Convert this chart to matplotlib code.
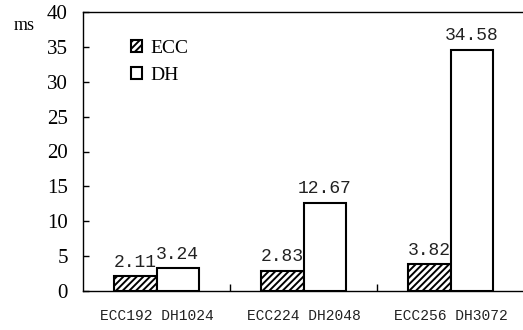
import matplotlib
matplotlib.use("Agg")
import matplotlib.pyplot as plt
import numpy as np

categories = ["ECC192 DH1024", "ECC224 DH2048", "ECC256 DH3072"]
ecc_values = [2.11, 2.83, 3.82]
dh_values = [3.24, 12.67, 34.58]
series_names = ["ECC", "DH"]
yticks = [0, 5, 10, 15, 20, 25, 30, 35, 40]

plt.rcParams['hatch.linewidth'] = 1.4
fig = plt.figure(figsize=(5.23, 3.30), dpi=100)
ax = fig.add_axes([83/523, 1 - 291/330, 441/523, 279/330])

x = np.arange(len(categories))
w = 0.29
ax.bar(x - w/2, ecc_values, w, facecolor="white", edgecolor="black",
       hatch="/////", linewidth=1.5, label=series_names[0])
ax.bar(x + w/2, dh_values, w, facecolor="white", edgecolor="black",
       linewidth=1.5, label=series_names[1])

mono = "Liberation Mono"
serif = "Liberation Serif"
for xi, v in zip(x - w/2, ecc_values):
    ax.text(xi, v + 1.4, f"{v:.2f}", ha="center", va="baseline", fontsize=13,
            family=mono, color="#222222")
for xi, v in zip(x + w/2, dh_values):
    ax.text(xi, v + 1.4, f"{v:.2f}", ha="center", va="baseline", fontsize=13,
            family=mono, color="#222222")

ax.set_xlim(-0.5, 2.5)
ax.set_ylim(0, 40)
ax.set_yticks(yticks)
ax.set_yticklabels([str(t) for t in yticks], family=serif, fontsize=15)
ax.set_xticks([0.5, 1.5])
ax.set_xticklabels([])
ax.tick_params(axis="x", direction="in", length=5, width=1)
ax.tick_params(axis="y", direction="in", length=4, width=1, pad=11)
for i, c in enumerate(categories):
    ax.text(i, -3.6, c, ha="center", va="center", fontsize=10.5, family=mono,
            color="#222222")

ax.spines["right"].set_visible(False)
for s in ["left", "bottom", "top"]:
    ax.spines[s].set_linewidth(1.0)

fig.text(24/523, 1 - 25/330, "ms", ha="center", va="center", fontsize=13, family=serif)

ax.legend(loc="upper left", bbox_to_anchor=(0.07, 0.964), frameon=False,
          handlelength=0.57, handleheight=0.57, handletextpad=0.4,
          labelspacing=0.55, prop={"family": serif, "size": 14})

fig.savefig("out.png", dpi=100)
